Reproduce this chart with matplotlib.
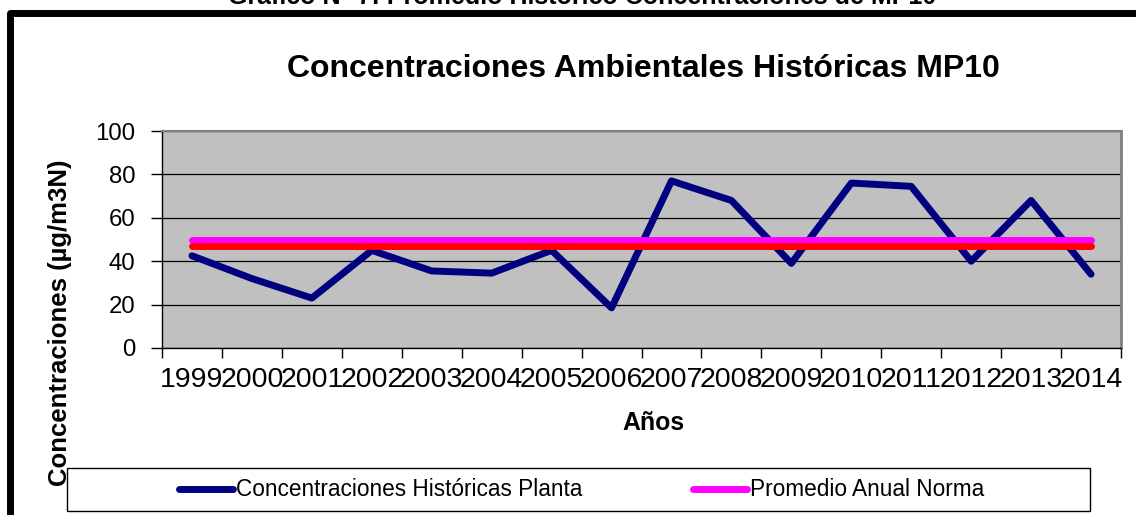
"""MP10 historical concentrations chart (Excel-style line chart)."""
import matplotlib
matplotlib.use("Agg")
import matplotlib.pyplot as plt
from matplotlib.patches import Rectangle

# ---------- Data ----------
YEARS = ["1999", "2000", "2001", "2002", "2003", "2004", "2005", "2006",
         "2007", "2008", "2009", "2010", "2011", "2012", "2013", "2014"]
PLANTA = [42.5, 32, 23, 45, 35.5, 34.5, 45, 18.5,
          77, 68, 39, 76, 74.5, 40, 68, 34]
NORMA = [50] * len(YEARS)
PROMEDIO_PLANTA = [47] * len(YEARS)

# ---------- Styling ----------
W, H = 1136, 515
DPI = 100
FONT = "Liberation Sans"
NAVY = "#000080"
MAGENTA = "#FF00FF"
RED = "#FF0000"
PLOT_BG = "#C0C0C0"
LW = 5

plt.rcParams["font.family"] = [FONT, "DejaVu Sans"]


def px(x, y):
    # pixel coords (origin top-left) -> figure fraction
    return x / W, 1 - y / H


fig = plt.figure(figsize=(W / DPI, H / DPI), dpi=DPI)

# outer chart frame (runs past right/bottom edges like the cropped source)
x0, y0 = px(9.5, 12.5)
fig.patches.append(Rectangle((x0, -0.2), 1.2, y0 + 0.2, transform=fig.transFigure,
                             fill=False, edgecolor="black", lw=5,
                             joinstyle="round", zorder=0))

# caption above the frame, cropped at the top edge as in the source
fig.text(582 / W, 1 - 4 / H, "Gráfico N° 7: Promedio Histórico Concentraciones de MP10",
         ha="center", va="baseline", fontsize=18, fontweight="bold")

left, top = px(162, 131)
right, bottom = px(1121, 348)
ax = fig.add_axes([left, bottom, right - left, top - bottom])
ax.set_facecolor(PLOT_BG)

xs = list(range(len(YEARS)))
ax.plot(xs, PLANTA, color=NAVY, lw=LW, solid_capstyle="round",
        solid_joinstyle="round", label="Concentraciones Históricas Planta", zorder=3)
ax.plot(xs, NORMA, color=MAGENTA, lw=LW, solid_capstyle="round",
        label="Promedio Anual Norma", zorder=4)
ax.plot(xs, PROMEDIO_PLANTA, color=RED, lw=LW, solid_capstyle="round",
        label="_nolegend_", zorder=5)

ax.set_xlim(-0.5, len(YEARS) - 0.5)
ax.set_ylim(0, 100)

# category boundaries carry the ticks, centers carry the labels
ax.set_xticks([i - 0.5 for i in range(len(YEARS) + 1)])
ax.set_xticklabels([])
ax.set_xticks(xs, minor=True)
ax.set_xticklabels(YEARS, minor=True, fontsize=20.5)
ax.tick_params(axis="x", which="major", direction="out", length=7, width=1, color="black")
ax.tick_params(axis="x", which="minor", length=0, pad=14)

ax.set_yticks([0, 20, 40, 60, 80, 100])
ax.tick_params(axis="y", direction="out", length=8, width=1, pad=11, labelsize=17.3)

ax.grid(axis="y", color="black", lw=0.9, zorder=1)
ax.set_axisbelow(True)
for side in ("left", "bottom"):
    ax.spines[side].set_color("black")
    ax.spines[side].set_linewidth(1)
ax.spines["top"].set_color("#808080")
ax.spines["top"].set_linewidth(1.5)
ax.spines["right"].set_color("#808080")
ax.spines["right"].set_linewidth(2)

# titles and axis labels
tx, ty = px(643, 69)
fig.text(tx, ty, "Concentraciones Ambientales Históricas MP10",
         ha="center", va="center", fontsize=23, fontweight="bold")
ax_x, ax_y = px(653, 423)
fig.text(ax_x, ax_y, "Años", ha="center", va="center", fontsize=17.9, fontweight="bold")
yl_x, yl_y = px(60, 323)
fig.text(yl_x, yl_y, "Concentraciones (µg/m3N)", ha="center", va="center",
         rotation=90, fontsize=18.5, fontweight="bold")

# legend box
bx0, by1 = px(67, 468)
bx1, by0 = px(1090, 511)
fig.patches.append(Rectangle((bx0, by0), bx1 - bx0, by1 - by0, transform=fig.transFigure,
                             facecolor="white", edgecolor="black", lw=1, zorder=2))
handles, labels = ax.get_legend_handles_labels()
lc_x, lc_y = px(581.5, 490)
fig.legend(handles, labels, loc="center", bbox_to_anchor=(lc_x, lc_y), ncol=2,
           frameon=False, fontsize=16.3, handlelength=2.4, handletextpad=0.1,
           columnspacing=4.9, borderpad=0, borderaxespad=0)

fig.savefig("out.png", dpi=DPI)
